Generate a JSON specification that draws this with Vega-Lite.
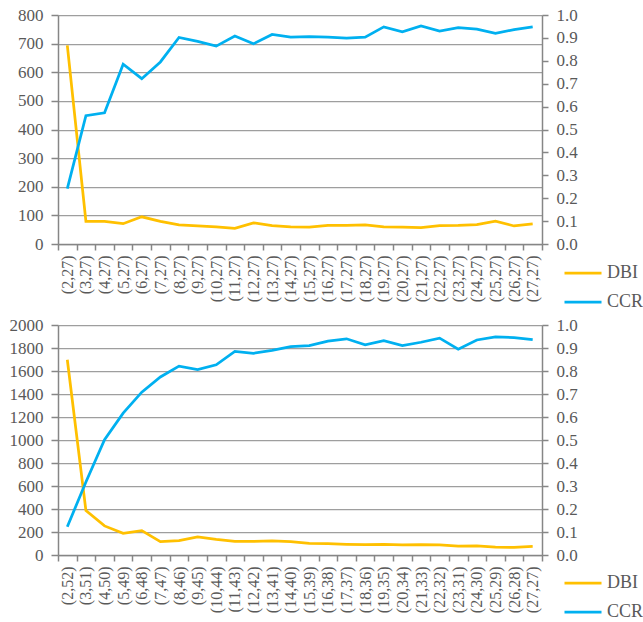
{
  "$schema": "https://vega.github.io/schema/vega-lite/v6.json",
  "background": "white",
  "padding": {"top": 6, "left": 9, "right": 0, "bottom": 4},
  "config": {
    "font": "Times New Roman, Liberation Serif, serif",
    "view": {"stroke": null},
    "axis": {
      "labelFont": "Times New Roman, Liberation Serif, serif",
      "labelColor": "#595959",
      "labelFontSize": 17,
      "domainColor": "#868686",
      "domainWidth": 1.5,
      "tickColor": "#868686",
      "tickWidth": 1.5,
      "gridColor": "#9e9e9e",
      "gridWidth": 1.25,
      "title": null
    },
    "legend": {
      "orient": "none",
      "legendX": 505,
      "legendY": 238,
      "symbolType": "stroke",
      "symbolSize": 1369,
      "symbolStrokeWidth": 3,
      "labelFont": "Times New Roman, Liberation Serif, serif",
      "labelFontSize": 18,
      "labelColor": "#595959",
      "labelOffset": 4,
      "padding": 0,
      "rowPadding": -10,
      "title": null
    },
    "line": {"strokeWidth": 2.75}
  },
  "datasets": {
    "top": [
      {"cat": "(2,27)", "DBI": 694, "CCR": 0.242},
      {"cat": "(3,27)", "DBI": 79, "CCR": 0.56},
      {"cat": "(4,27)", "DBI": 79, "CCR": 0.573},
      {"cat": "(5,27)", "DBI": 71, "CCR": 0.785},
      {"cat": "(6,27)", "DBI": 95, "CCR": 0.722},
      {"cat": "(7,27)", "DBI": 79, "CCR": 0.795},
      {"cat": "(8,27)", "DBI": 67, "CCR": 0.902},
      {"cat": "(9,27)", "DBI": 63, "CCR": 0.885},
      {"cat": "(10,27)", "DBI": 60, "CCR": 0.864},
      {"cat": "(11,27)", "DBI": 55, "CCR": 0.908},
      {"cat": "(12,27)", "DBI": 74, "CCR": 0.874},
      {"cat": "(13,27)", "DBI": 64, "CCR": 0.915},
      {"cat": "(14,27)", "DBI": 60, "CCR": 0.903},
      {"cat": "(15,27)", "DBI": 59, "CCR": 0.906},
      {"cat": "(16,27)", "DBI": 65, "CCR": 0.903},
      {"cat": "(17,27)", "DBI": 65, "CCR": 0.899},
      {"cat": "(18,27)", "DBI": 67, "CCR": 0.903},
      {"cat": "(19,27)", "DBI": 60, "CCR": 0.948},
      {"cat": "(20,27)", "DBI": 59, "CCR": 0.927},
      {"cat": "(21,27)", "DBI": 57, "CCR": 0.952},
      {"cat": "(22,27)", "DBI": 64, "CCR": 0.930},
      {"cat": "(23,27)", "DBI": 65, "CCR": 0.945},
      {"cat": "(24,27)", "DBI": 68, "CCR": 0.938},
      {"cat": "(25,27)", "DBI": 80, "CCR": 0.920},
      {"cat": "(26,27)", "DBI": 63, "CCR": 0.936},
      {"cat": "(27,27)", "DBI": 70, "CCR": 0.948}
    ],
    "bottom": [
      {"cat": "(2,52)", "DBI": 1698, "CCR": 0.123},
      {"cat": "(3,51)", "DBI": 386, "CCR": 0.317},
      {"cat": "(4,50)", "DBI": 253, "CCR": 0.501},
      {"cat": "(5,49)", "DBI": 189, "CCR": 0.617},
      {"cat": "(6,48)", "DBI": 212, "CCR": 0.708},
      {"cat": "(7,47)", "DBI": 116, "CCR": 0.774},
      {"cat": "(8,46)", "DBI": 125, "CCR": 0.821},
      {"cat": "(9,45)", "DBI": 157, "CCR": 0.806},
      {"cat": "(10,44)", "DBI": 136, "CCR": 0.827},
      {"cat": "(11,43)", "DBI": 119, "CCR": 0.885},
      {"cat": "(12,42)", "DBI": 119, "CCR": 0.877},
      {"cat": "(13,41)", "DBI": 122, "CCR": 0.890},
      {"cat": "(14,40)", "DBI": 116, "CCR": 0.906},
      {"cat": "(15,39)", "DBI": 102, "CCR": 0.910},
      {"cat": "(16,38)", "DBI": 99, "CCR": 0.930},
      {"cat": "(17,37)", "DBI": 93, "CCR": 0.940},
      {"cat": "(18,36)", "DBI": 90, "CCR": 0.914},
      {"cat": "(19,35)", "DBI": 93, "CCR": 0.932},
      {"cat": "(20,34)", "DBI": 87, "CCR": 0.910},
      {"cat": "(21,33)", "DBI": 90, "CCR": 0.925},
      {"cat": "(22,32)", "DBI": 87, "CCR": 0.943},
      {"cat": "(23,31)", "DBI": 77, "CCR": 0.895},
      {"cat": "(24,30)", "DBI": 80, "CCR": 0.935},
      {"cat": "(25,29)", "DBI": 68, "CCR": 0.948},
      {"cat": "(26,28)", "DBI": 66, "CCR": 0.945},
      {"cat": "(27,27)", "DBI": 74, "CCR": 0.936}
    ]
  },
  "bounds": "flush",
  "spacing": 81,
  "resolve": {"legend": {"color": "independent"}},
  "vconcat": [
    {
      "width": 484,
      "height": 229,
      "data": {"name": "top"},
      "encoding": {
        "x": {
          "field": "cat", "type": "ordinal", "sort": null, "bandPosition": 0.5,
          "scale": {"type": "band", "paddingInner": 0, "paddingOuter": 0},
          "axis": {"labelAngle": -90, "tickBand": "extent", "tickSize": 6, "labelPadding": 5, "labelFontSize": 16, "grid": false}
        }
      },
      "layer": [
        {
          "mark": {"type": "line", "strokeWidth": 2.75},
          "encoding": {
            "y": {"field": "DBI", "type": "quantitative", "scale": {"domain": [0, 800], "nice": false},
              "axis": {"values": [0, 100, 200, 300, 400, 500, 600, 700, 800], "grid": true, "tickSize": 7, "labelPadding": 8}},
            "color": {"datum": "DBI", "type": "nominal", "scale": {"domain": ["DBI", "CCR"], "range": ["#FFC000", "#00B0F0"]}}
          }
        },
        {
          "mark": {"type": "line", "strokeWidth": 2.75},
          "encoding": {
            "y": {"field": "CCR", "type": "quantitative", "scale": {"domain": [0, 1], "nice": false},
              "axis": {"orient": "right", "values": [0, 0.1, 0.2, 0.3, 0.4, 0.5, 0.6, 0.7, 0.8, 0.9, 1.0], "format": ".1f", "grid": false, "tickSize": 6, "labelPadding": 8}},
            "color": {"datum": "CCR", "type": "nominal", "scale": {"domain": ["DBI", "CCR"], "range": ["#FFC000", "#00B0F0"]}}
          }
        }
      ],
      "resolve": {"scale": {"y": "independent"}}
    },
    {
      "width": 484,
      "height": 230,
      "data": {"name": "bottom"},
      "encoding": {
        "x": {
          "field": "cat", "type": "ordinal", "sort": null, "bandPosition": 0.5,
          "scale": {"type": "band", "paddingInner": 0, "paddingOuter": 0},
          "axis": {"labelAngle": -90, "tickBand": "extent", "tickSize": 6, "labelPadding": 5, "labelFontSize": 16, "grid": false}
        }
      },
      "layer": [
        {
          "mark": {"type": "line", "strokeWidth": 2.75},
          "encoding": {
            "y": {"field": "DBI", "type": "quantitative", "scale": {"domain": [0, 2000], "nice": false},
              "axis": {"values": [0, 200, 400, 600, 800, 1000, 1200, 1400, 1600, 1800, 2000], "format": "d", "grid": true, "tickSize": 7, "labelPadding": 8}},
            "color": {"datum": "DBI", "type": "nominal", "scale": {"domain": ["DBI", "CCR"], "range": ["#FFC000", "#00B0F0"]}}
          }
        },
        {
          "mark": {"type": "line", "strokeWidth": 2.75},
          "encoding": {
            "y": {"field": "CCR", "type": "quantitative", "scale": {"domain": [0, 1], "nice": false},
              "axis": {"orient": "right", "values": [0, 0.1, 0.2, 0.3, 0.4, 0.5, 0.6, 0.7, 0.8, 0.9, 1.0], "format": ".1f", "grid": false, "tickSize": 6, "labelPadding": 8}},
            "color": {"datum": "CCR", "type": "nominal", "scale": {"domain": ["DBI", "CCR"], "range": ["#FFC000", "#00B0F0"]}}
          }
        }
      ],
      "resolve": {"scale": {"y": "independent"}}
    }
  ]
}
